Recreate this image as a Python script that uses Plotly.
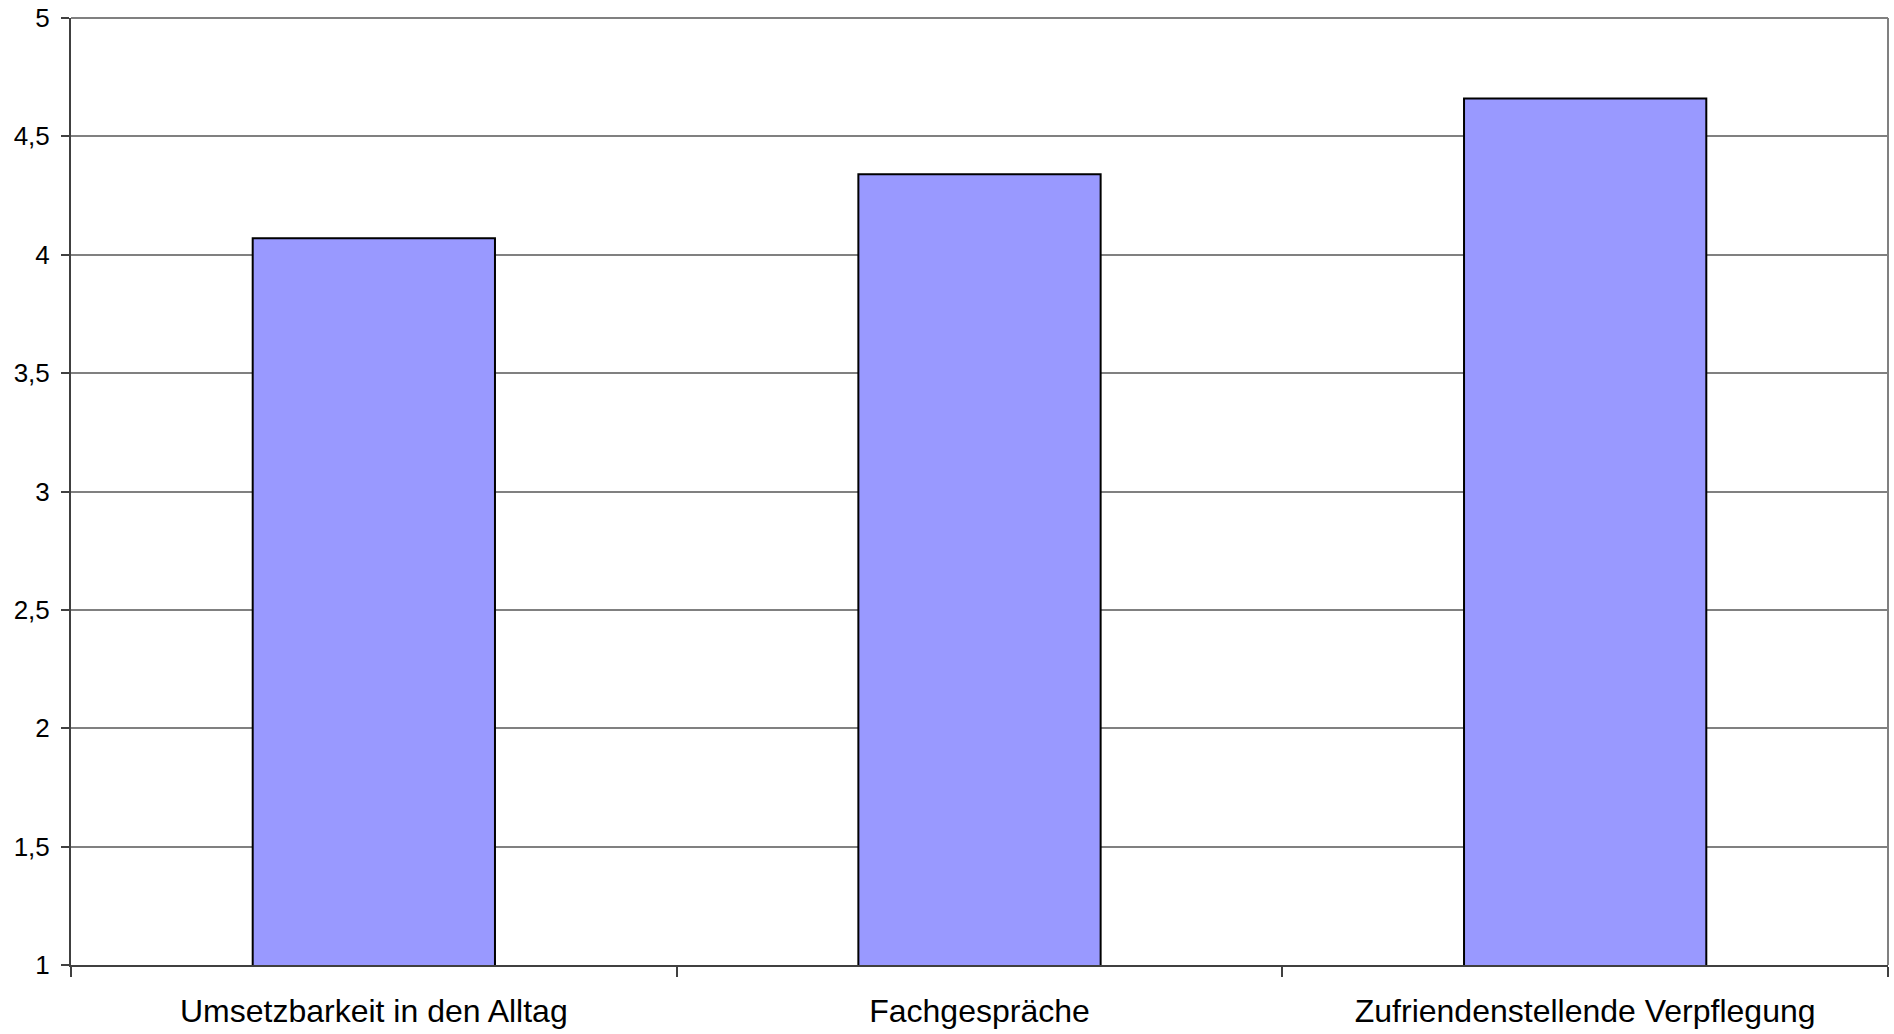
import plotly.graph_objects as go

categories = ["Umsetzbarkeit in den Alltag", "Fachgespräche", "Zufriendenstellende Verpflegung"]
values = [4.07, 4.34, 4.66]
y_ticks = [1, 1.5, 2, 2.5, 3, 3.5, 4, 4.5, 5]

fig = go.Figure()
fig.add_trace(go.Bar(
    x=categories, y=values,
    marker=dict(color="#9999FF", line=dict(color="#000000", width=2)),
))

fig.update_layout(
    width=1894, height=1034,
    margin=dict(l=71, r=6, t=18, b=69, autoexpand=False),
    paper_bgcolor="white", plot_bgcolor="white",
    bargap=0.6,
    separators=",.",
    showlegend=False,
    font=dict(family="Liberation Sans, Arial, sans-serif", color="#000000"),
    shapes=[
        dict(type="line", xref="paper", yref="paper", x0=1, x1=1, y0=0, y1=1,
             line=dict(color="#808080", width=2), layer="below"),
        dict(type="line", xref="paper", yref="paper", x0=0, x1=1, y0=1, y1=1,
             line=dict(color="#808080", width=2), layer="below"),
    ],
)

fig.update_yaxes(
    range=[1, 5], tickvals=y_ticks,
    showgrid=True, gridcolor="#808080", gridwidth=1.5,
    showline=True, linecolor="#404040", linewidth=2,
    ticks="outside", ticklen=8, tickcolor="#404040", tickwidth=1.5,
    tickfont=dict(size=26, family="Liberation Sans, Arial, sans-serif", color="#000000"),
    ticklabelstandoff=6,
    ticklabeloverflow="allow",
    zeroline=False,
)
fig.update_xaxes(
    showline=True, linecolor="#404040", linewidth=2,
    ticks="outside", ticklen=10, tickcolor="#404040", tickwidth=1.5,
    tickson="boundaries",
    tickfont=dict(size=32, family="Liberation Sans, Arial, sans-serif", color="#000000"),
    ticklabelstandoff=17,
    ticklabeloverflow="allow",
    showgrid=False,
)

fig.write_html(
    "out.html",
    config={"displayModeBar": False},
    post_script="document.body.style.margin='0';document.body.style.overflow='hidden';",
)
